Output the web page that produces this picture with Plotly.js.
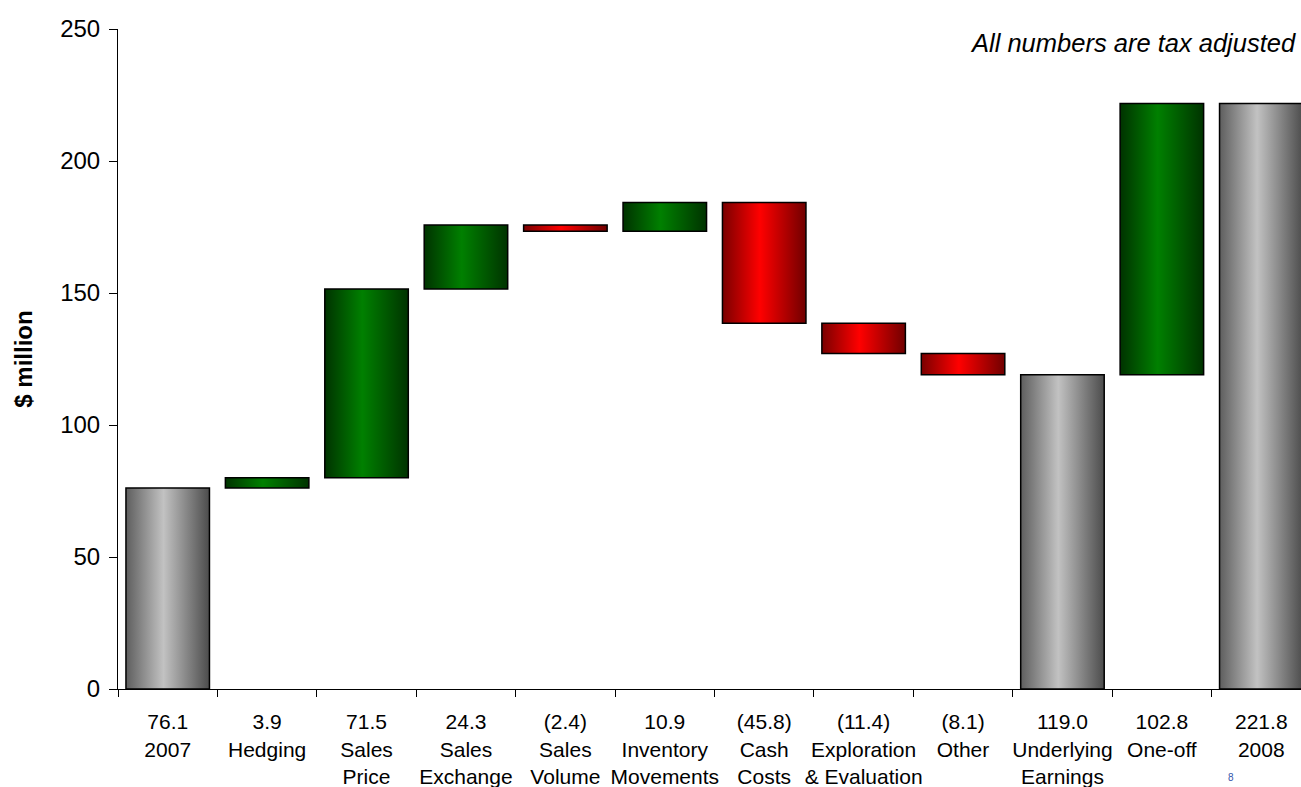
<!DOCTYPE html>
<html>
<head>
<meta charset="utf-8">
<script src="https://cdn.plot.ly/plotly-3.0.1.min.js"></script>
<style>
  html, body { margin: 0; padding: 0; overflow: hidden; background: #fff; }
  #chart { width: 1311px; height: 787px; }
</style>
</head>
<body>
<div id="chart"></div>
<script>
// Earnings bridge 2007 -> 2008, $ million
const categories = ['2007', 'Hedging', 'Sales Price', 'Sales Exchange', 'Sales Volume',
  'Inventory Movements', 'Cash Costs', 'Exploration & Evaluation', 'Other',
  'Underlying Earnings', 'One-off', '2008'];
const nameLines = ['2007', 'Hedging', 'Sales<br>Price', 'Sales<br>Exchange', 'Sales<br>Volume',
  'Inventory<br>Movements', 'Cash<br>Costs', 'Exploration<br>&amp; Evaluation', 'Other',
  'Underlying<br>Earnings', 'One-off', '2008'];
const values = [76.1, 3.9, 71.5, 24.3, -2.4, 10.9, -45.8, -11.4, -8.1, 119.0, 102.8, 221.8];
const kinds = ['total', 'delta', 'delta', 'delta', 'delta', 'delta', 'delta', 'delta', 'delta',
  'total', 'delta', 'total'];

function fmt(v) {
  return v < 0 ? '(' + Math.abs(v).toFixed(1) + ')' : v.toFixed(1);
}

// running bases for the floating bars
const bases = [];
let running = 0;
values.forEach((v, i) => {
  if (kinds[i] === 'total') { bases.push(0); running = v; }
  else { bases.push(running); running += v; }
});

const groups = { grey: { x: [], y: [], base: [] }, green: { x: [], y: [], base: [] }, red: { x: [], y: [], base: [] } };
values.forEach((v, i) => {
  const g = kinds[i] === 'total' ? 'grey' : (v >= 0 ? 'green' : 'red');
  groups[g].x.push(categories[i]);
  groups[g].y.push(v);
  groups[g].base.push(bases[i]);
});

const flat = { grey: '#a0a0a0', green: '#008000', red: '#ff0000' };
const order = ['grey', 'green', 'red'];
const traces = order.map(k => ({
  type: 'bar',
  name: k,
  x: groups[k].x,
  y: groups[k].y,
  base: groups[k].base,
  width: 0.84,
  marker: { color: flat[k], line: { color: '#000', width: 1.5 } },
  hoverinfo: 'skip',
  showlegend: false
}));

const tickText = categories.map((c, i) => fmt(values[i]) + '<br>' + nameLines[i]);

const font = 'Arial, "Liberation Sans", sans-serif';
const layout = {
  width: 1311,
  height: 787,
  margin: { l: 118, r: 0, t: 29, b: 98 },
  paper_bgcolor: '#fff',
  plot_bgcolor: '#fff',
  barmode: 'overlay',
  font: { family: font, color: '#000' },
  xaxis: {
    type: 'category',
    categoryorder: 'array',
    categoryarray: categories,
    tickvals: categories,
    ticktext: tickText,
    tickson: 'boundaries',
    ticks: 'outside',
    ticklen: 7,
    tickcolor: '#000',
    showline: true,
    linecolor: '#000',
    linewidth: 1,
    showgrid: false,
    zeroline: false,
    range: [-0.5, 11.5],
    tickfont: { size: 21, family: font, color: '#000' },
    ticklabelstandoff: 14,
    tickangle: 0
  },
  yaxis: {
    range: [0, 250],
    dtick: 50,
    ticks: 'outside',
    ticklen: 8,
    tickcolor: '#000',
    showline: true,
    linecolor: '#000',
    linewidth: 1,
    showgrid: false,
    zeroline: false,
    tickfont: { size: 24, family: font, color: '#000' },
    ticklabelstandoff: 4,
    title: { text: '<b>$ million</b>', font: { size: 24, family: font, color: '#000' }, standoff: 20 }
  },
  annotations: [
    {
      text: '<i>All numbers are tax adjusted</i>',
      xref: 'paper', yref: 'paper',
      x: 0.9891, y: 0.9788,
      xanchor: 'right', yanchor: 'middle',
      showarrow: false,
      font: { size: 25.5, family: font, color: '#000' }
    },
    {
      text: '8',
      xref: 'paper', yref: 'paper',
      x: 0.933, y: -0.146,
      xanchor: 'center', yanchor: 'bottom',
      showarrow: false,
      font: { size: 10, family: font, color: '#3355aa' }
    }
  ]
};

// horizontal cylinder-style shading for each colour group
const shades = {
  grey: [['0%', '#5e5e5e'], ['45%', '#c2c2c2'], ['100%', '#4c4c4c']],
  green: [['0%', '#003300'], ['45%', '#008000'], ['100%', '#003300']],
  red: [['0%', '#7a0000'], ['45%', '#ff0000'], ['100%', '#700000']]
};

function applyShading(gd) {
  const svg = gd.querySelector('.main-svg');
  const NS = 'http://www.w3.org/2000/svg';
  let defs = svg.querySelector('defs');
  if (!defs) { defs = document.createElementNS(NS, 'defs'); svg.insertBefore(defs, svg.firstChild); }
  order.forEach(k => {
    const id = 'shade-' + k;
    if (!defs.querySelector('#' + id)) {
      const lg = document.createElementNS(NS, 'linearGradient');
      lg.setAttribute('id', id);
      lg.setAttribute('x1', '0'); lg.setAttribute('y1', '0');
      lg.setAttribute('x2', '1'); lg.setAttribute('y2', '0');
      shades[k].forEach(([off, col]) => {
        const st = document.createElementNS(NS, 'stop');
        st.setAttribute('offset', off);
        st.setAttribute('stop-color', col);
        lg.appendChild(st);
      });
      defs.appendChild(lg);
    }
  });
  const traceGroups = gd.querySelectorAll('.barlayer .trace');
  traceGroups.forEach((tg, i) => {
    tg.querySelectorAll('path').forEach(p => { p.style.fill = 'url(#shade-' + order[i] + ')'; });
  });
}

const gd = document.getElementById('chart');
Plotly.newPlot(gd, traces, layout, { displayModeBar: false, staticPlot: true }).then(applyShading);
</script>
</body>
</html>
